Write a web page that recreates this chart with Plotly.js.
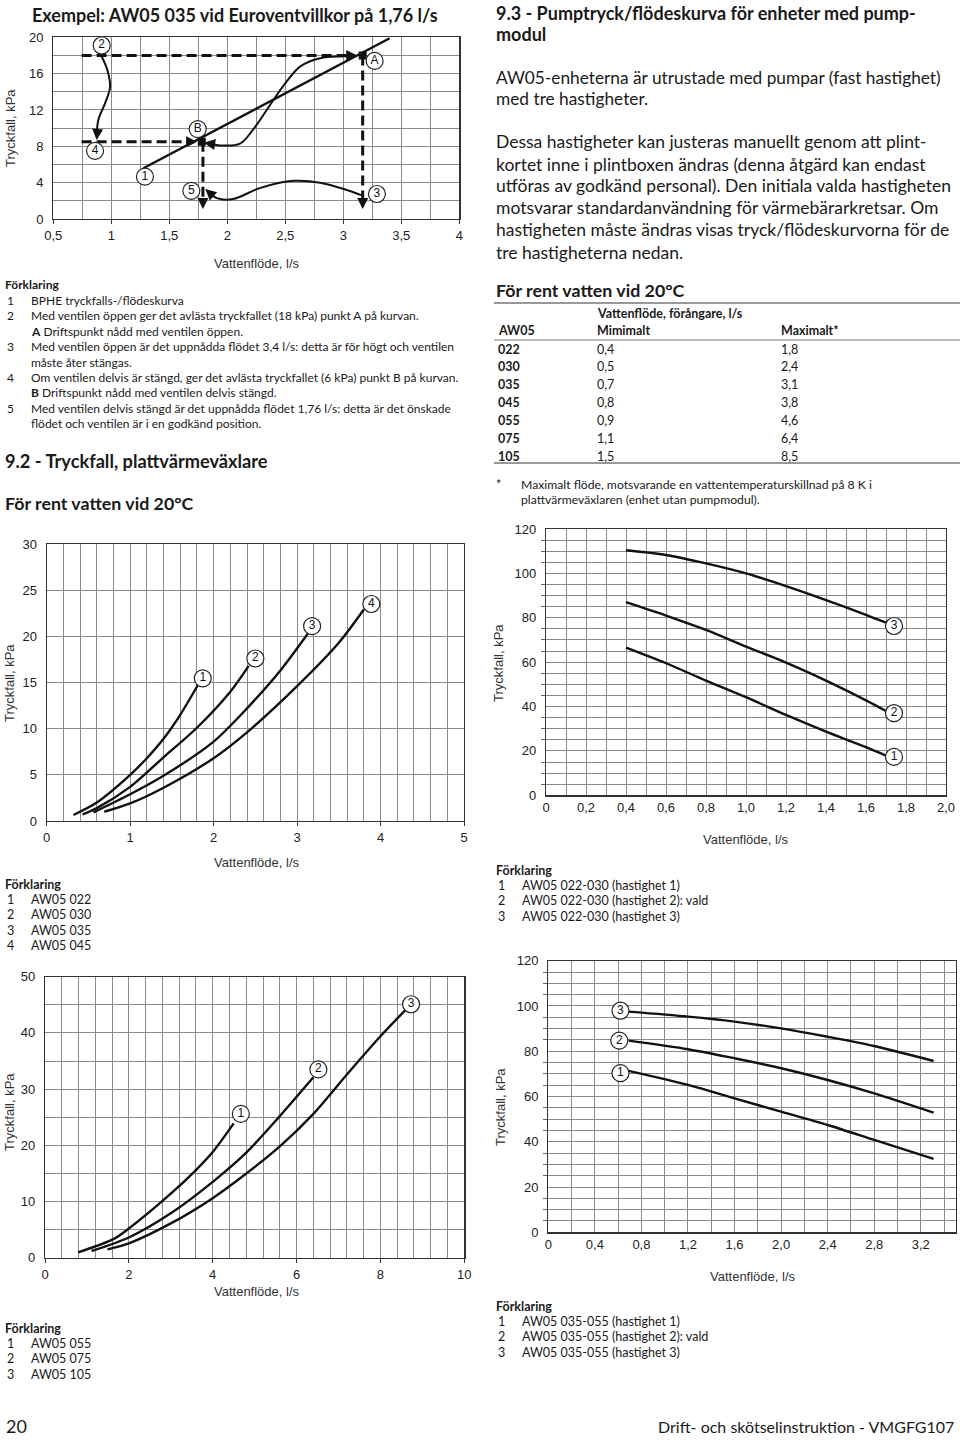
<!DOCTYPE html>
<html><head><meta charset="utf-8">
<script src="https://cdn.plot.ly/plotly-3.0.1.min.js"></script>
<style>body{margin:0;background:#fff}#c{width:960px;height:1440px}</style>
</head><body><div id="c"></div><script>
// ---------- Chart 1: Exempel (Euroventvillkor) ----------
const exCurveX = [1.276, 3.40];
const exCurveY = [5.58, 19.9];
const exPointsX = [3.167, 1.78];      // A, B
const exPointsY = [18.0, 8.5];
const exDashA_X = [0.744, 3.10], exDashA_Y = [18, 18];
const exDashB_X = [0.744, 1.72], exDashB_Y = [8.5, 8.5];
const exDropB_X = [1.79, 1.79], exDropB_Y = [8.5, 1.4];
const exDropA_X = [3.167, 3.167], exDropA_Y = [18, 1.4];
const exArrow24_X = [0.908, 0.966, 0.989, 0.945, 0.888, 0.874];
const exArrow24_Y = [18.1, 16.4, 14.5, 12.7, 10.9, 9.0];
const exArrowAB_X = [3.06, 2.80, 2.63, 2.48, 2.34, 2.22, 2.11, 1.94, 1.83];
const exArrowAB_Y = [17.9, 17.7, 16.8, 14.6, 12.0, 9.8, 8.3, 8.1, 8.4];
const exArrow53_X = [1.84, 1.91, 2.05, 2.28, 2.57, 2.80, 3.03, 3.16];
const exArrow53_Y = [3.0, 2.3, 2.2, 3.4, 4.2, 4.0, 3.2, 2.6];
const exLabels = ['2', 'A', 'B', '4', '1', '5', '3'];
const exLabelX = [0.917, 3.27, 1.745, 0.86, 1.29, 1.69, 3.29];
const exLabelY = [19.1, 17.4, 9.9, 7.5, 4.66, 3.1, 2.75];
const exXTicks = [0.5, 1, 1.5, 2, 2.5, 3, 3.5, 4];
const exXText = ['0,5', '1', '1,5', '2', '2,5', '3', '3,5', '4'];

// ---------- Chart 2: Tryckfall AW05 022-045 ----------
const pv1X = [0.32, 0.6, 1.0, 1.2, 1.4, 1.6, 1.81];
const pv1Y = [0.65, 2.0, 5.0, 6.8, 8.9, 11.5, 14.7];
const pv2X = [0.43, 0.6, 1.0, 1.4, 1.8, 2.2, 2.42];
const pv2Y = [0.72, 1.4, 3.7, 6.9, 10.1, 14.0, 16.8];
const pv3X = [0.56, 1.0, 1.4, 2.0, 2.4, 2.8, 3.13];
const pv3Y = [0.94, 2.9, 4.9, 8.6, 12.2, 16.3, 20.3];
const pv4X = [0.69, 1.0, 1.4, 2.0, 2.4, 3.0, 3.5, 3.8];
const pv4Y = [1.0, 1.9, 3.6, 6.8, 9.6, 14.6, 19.3, 22.9];
const pvLabels = ['1', '2', '3', '4'];
const pvLabelX = [1.87, 2.5, 3.18, 3.89];
const pvLabelY = [15.45, 17.6, 21.1, 23.5];

// ---------- Chart 3: Tryckfall AW05 055-105 ----------
const pw1X = [0.79, 1.63, 2.0, 3.0, 3.6, 4.0, 4.5];
const pw1Y = [0.95, 3.3, 5.2, 11.4, 15.6, 18.8, 23.9];
const pw2X = [1.11, 2.0, 3.0, 4.0, 4.8, 5.6, 6.4];
const pw2Y = [1.19, 3.6, 7.9, 13.5, 18.7, 25.2, 32.1];
const pw3X = [1.49, 2.0, 3.0, 4.0, 4.7, 5.6, 6.4, 7.2, 8.0, 8.6];
const pw3Y = [1.48, 2.55, 6.1, 10.6, 14.4, 19.8, 25.6, 32.6, 39.4, 44.1];
const pwLabels = ['1', '2', '3'];
const pwLabelX = [4.67, 6.52, 8.73];
const pwLabelY = [25.6, 33.5, 45.1];

// ---------- Chart 4: Pumptryck AW05 022-030 ----------
const pa_X = [0.4, 0.6, 0.8, 1.0, 1.2, 1.4, 1.6, 1.7];
const pa3Y = [110.4, 108.3, 104.5, 100, 94.3, 88, 81.3, 77.8];
const pa2Y = [87, 81, 74.5, 67, 59.8, 51.7, 42.8, 38];
const pa1Y = [66.5, 59.5, 51.7, 44.2, 36.2, 28.7, 21.7, 17.9];
const paLabels = ['3', '2', '1'];
const paLabelX = [1.74, 1.74, 1.74];
const paLabelY = [76.3, 37, 17.3];
const paXTicks = [0, 0.2, 0.4, 0.6, 0.8, 1.0, 1.2, 1.4, 1.6, 1.8, 2.0];
const paXText = ['0', '0,2', '0,4', '0,6', '0,8', '1,0', '1,2', '1,4', '1,6', '1,8', '2,0'];

// ---------- Chart 5: Pumptryck AW05 035-055 ----------
const pb_X = [0.69, 1.2, 1.6, 2.0, 2.4, 2.8, 3.31];
const pb3Y = [97.5, 95.3, 93.1, 90.1, 86.4, 82.3, 75.7];
const pb2Y = [84.7, 80.9, 76.9, 72.5, 67.3, 61.4, 52.9];
const pb1Y = [71.3, 65.1, 59.2, 53.3, 47.4, 40.8, 32.4];
const pbLabels = ['3', '2', '1'];
const pbLabelX = [0.62, 0.61, 0.62];
const pbLabelY = [97.9, 84.7, 70.3];
const pbXTicks = [0, 0.4, 0.8, 1.2, 1.6, 2.0, 2.4, 2.8, 3.2];
const pbXText = ['0', '0,4', '0,8', '1,2', '1,6', '2,0', '2,4', '2,8', '3,2'];

// ---------- Table ----------
const tblModel = ['022', '030', '035', '045', '055', '075', '105'];
const tblMin = ['0,4', '0,5', '0,7', '0,8', '0,9', '1,1', '1,5'];
const tblMax = ['1,8', '2,4', '3,1', '3,8', '4,6', '6,4', '8,5'];

// ---------- Text ----------
const legend1 = [
  ['1', 'BPHE tryckfalls-/flödeskurva'],
  ['2', 'Med ventilen öppen ger det avlästa tryckfallet (18 kPa) punkt A på kurvan.'],
  ['', '<b>A</b> Driftspunkt nådd med ventilen öppen.'],
  ['3', 'Med ventilen öppen är det uppnådda flödet 3,4 l/s: detta är för högt och ventilen'],
  ['', 'måste åter stängas.'],
  ['4', 'Om ventilen delvis är stängd, ger det avlästa tryckfallet (6 kPa) punkt B på kurvan.'],
  ['', '<b>B</b> Driftspunkt nådd med ventilen delvis stängd.'],
  ['5', 'Med ventilen delvis stängd är det uppnådda flödet 1,76 l/s: detta är det önskade'],
  ['', 'flödet och ventilen är i en godkänd position.']
];
const legend2 = [['1', 'AW05 022'], ['2', 'AW05 030'], ['3', 'AW05 035'], ['4', 'AW05 045']];
const legend3 = [['1', 'AW05 055'], ['2', 'AW05 075'], ['3', 'AW05 105']];
const legend4 = [['1', 'AW05 022-030 (hastighet 1)'], ['2', 'AW05 022-030 (hastighet 2): vald'], ['3', 'AW05 022-030 (hastighet 3)']];
const legend5 = [['1', 'AW05 035-055 (hastighet 1)'], ['2', 'AW05 035-055 (hastighet 2): vald'], ['3', 'AW05 035-055 (hastighet 3)']];
const para1 = ['AW05-enheterna är utrustade med pumpar (fast hastighet)', 'med tre hastigheter.'];
const para2 = ['Dessa hastigheter kan justeras manuellt genom att plint-',
  'kortet inne i plintboxen ändras (denna åtgärd kan endast',
  'utföras av godkänd personal). Den initiala valda hastigheten',
  'motsvarar standardanvändning för värmebärarkretsar. Om',
  'hastigheten måste ändras visas tryck/flödeskurvorna för de',
  'tre hastigheterna nedan.'];

// ================= Build =================
const W = 960, H = 1440;
const BODY = 'Lato, "Open Sans", sans-serif';
const TICKF = '"Liberation Sans", Arial, sans-serif';
const TXT = '#1a1a1a';
const GRID = '#8a8a8a';
const px = v => v / W, py = v => 1 - v / H;

function axisPair(n, box, xr, yr, xo, yo) {
  const xs = n === 1 ? '' : n, ys = n === 1 ? '' : n;
  const common = {showline: true, mirror: true, linecolor: '#333', linewidth: 1.2, zeroline: false,
    showgrid: true, gridcolor: GRID, gridwidth: 1, fixedrange: true,
    tickfont: {family: TICKF, size: 13, color: '#222'}};
  const xa = Object.assign({}, common, {domain: [px(box[0]), px(box[1])], range: xr,
    anchor: 'y' + ys, ticks: 'outside', ticklen: 4, tickcolor: '#333'}, xo);
  const ya = Object.assign({}, common, {domain: [py(box[3]), py(box[2])], range: yr,
    anchor: 'x' + xs, ticks: '', ticklabelstandoff: 6}, yo);
  return [xa, ya];
}

const layout = {
  width: W, height: H, margin: {l: 0, r: 0, t: 0, b: 0},
  paper_bgcolor: '#fff', plot_bgcolor: '#fff', showlegend: false,
  separators: ', ', annotations: [], shapes: []
};

let [x1, y1] = axisPair(1, [53.3, 459.3, 37.3, 219], [0.5, 4], [0, 20],
  {tickmode: 'array', tickvals: exXTicks, ticktext: exXText,
   minor: {tickmode: 'linear', tick0: 0.5, dtick: 0.25, showgrid: true, gridcolor: GRID, ticks: ''}},
  {tickmode: 'linear', tick0: 0, dtick: 4, minor: {tickmode: 'linear', tick0: 0, dtick: 2, showgrid: true, gridcolor: GRID}});
let [x2, y2] = axisPair(2, [46.7, 464, 544, 821], [0, 5], [0, 30],
  {tickmode: 'linear', tick0: 0, dtick: 1, minor: {tickmode: 'linear', tick0: 0, dtick: 0.2, showgrid: true, gridcolor: GRID}},
  {tickmode: 'linear', tick0: 0, dtick: 5});
let [x3, y3] = axisPair(3, [45, 464.3, 976.7, 1257.7], [0, 10], [0, 50],
  {tickmode: 'linear', tick0: 0, dtick: 2, minor: {tickmode: 'linear', tick0: 0, dtick: 0.4, showgrid: true, gridcolor: GRID}},
  {tickmode: 'linear', tick0: 0, dtick: 10, minor: {tickmode: 'linear', tick0: 0, dtick: 5, showgrid: true, gridcolor: GRID}});
let [x4, y4] = axisPair(4, [546, 946, 529, 795.3], [0, 2], [0, 120],
  {tickmode: 'array', tickvals: paXTicks, ticktext: paXText, ticks: '',
   minor: {tickmode: 'linear', tick0: 0, dtick: 0.1, showgrid: true, gridcolor: GRID}},
  {tickmode: 'linear', tick0: 0, dtick: 20, minor: {tickmode: 'linear', tick0: 0, dtick: 5, showgrid: true, gridcolor: GRID, ticks: 'outside', ticklen: 4, tickcolor: '#666'}});
let [x5, y5] = axisPair(5, [548.3, 955.7, 960.7, 1232.3], [0, 3.5], [0, 120],
  {tickmode: 'array', tickvals: pbXTicks, ticktext: pbXText, ticks: '',
   minor: {tickmode: 'linear', tick0: 0, dtick: 0.2, showgrid: true, gridcolor: GRID}},
  {tickmode: 'linear', tick0: 0, dtick: 20, minor: {tickmode: 'linear', tick0: 0, dtick: 5, showgrid: true, gridcolor: GRID, ticks: 'outside', ticklen: 4, tickcolor: '#666'}});
Object.assign(layout, {xaxis: x1, yaxis: y1, xaxis2: x2, yaxis2: y2, xaxis3: x3, yaxis3: y3,
  xaxis4: x4, yaxis4: y4, xaxis5: x5, yaxis5: y5});

const traces = [];
function curve(x, y, n, extra) {
  const s = n === 1 ? '' : n;
  traces.push(Object.assign({type: 'scatter', mode: 'lines', x: x, y: y, xaxis: 'x' + s, yaxis: 'y' + s,
    line: {color: '#111', width: 2.4, shape: 'spline', smoothing: 0.8}, hoverinfo: 'skip'}, extra || {}));
}
function labels(x, y, t, n, size) {
  const s = n === 1 ? '' : n;
  traces.push({type: 'scatter', mode: 'markers+text', x: x, y: y, text: t, xaxis: 'x' + s, yaxis: 'y' + s,
    marker: {symbol: 'circle', size: size || 17, color: '#fff', line: {color: '#222', width: 1.2}},
    textposition: 'middle center', textfont: {family: TICKF, size: 12, color: '#111'}, hoverinfo: 'skip'});
}

// chart 1
const dashed = {line: {color: '#111', width: 3, dash: '10px,5px'}};
curve(exDashA_X, exDashA_Y, 1, dashed);
curve(exDashB_X, exDashB_Y, 1, dashed);
curve(exDropB_X, exDropB_Y, 1, dashed);
curve(exDropA_X, exDropA_Y, 1, dashed);
curve(exCurveX, exCurveY, 1);
curve(exArrow24_X, exArrow24_Y, 1, {line: {color: '#111', width: 2, shape: 'spline'}});
curve(exArrowAB_X, exArrowAB_Y, 1, {line: {color: '#111', width: 2, shape: 'spline'}});
curve(exArrow53_X, exArrow53_Y, 1, {line: {color: '#111', width: 2, shape: 'spline'}});
traces.push({type: 'scatter', mode: 'markers', x: exPointsX, y: exPointsY, marker: {symbol: 'square', size: 8, color: '#111'}, hoverinfo: 'skip'});
labels(exLabelX, exLabelY, exLabels, 1, 17);

// arrowheads chart 1
function head(x, y, ax, ay) {
  layout.annotations.push({xref: 'x', yref: 'y', x: x, y: y, ax: ax, ay: ay, text: '', showarrow: true,
    arrowhead: 2, arrowsize: 1, arrowwidth: 2.2, arrowcolor: '#111', standoff: 0});
}
head(exDashA_X[1] + 0.02, 18, -12, 0);
head(exDashB_X[1] + 0.02, 8.5, -12, 0);
head(exDropB_X[1], exDropB_Y[1] - 0.3, 0, -12);
head(exDropA_X[1], exDropA_Y[1] - 0.3, 0, -12);
head(exArrow24_X[5], exArrow24_Y[5] - 0.3, 1, -12);
head(exArrowAB_X[8] - 0.03, exArrowAB_Y[8], 12, 2);
head(exArrow53_X[0] - 0.03, exArrow53_Y[0] + 0.3, 9, 8);

// chart 2
curve(pv1X, pv1Y, 2); curve(pv2X, pv2Y, 2); curve(pv3X, pv3Y, 2); curve(pv4X, pv4Y, 2);
labels(pvLabelX, pvLabelY, pvLabels, 2);
// chart 3
curve(pw1X, pw1Y, 3); curve(pw2X, pw2Y, 3); curve(pw3X, pw3Y, 3);
labels(pwLabelX, pwLabelY, pwLabels, 3);
// chart 4
curve(pa_X, pa3Y, 4); curve(pa_X, pa2Y, 4); curve(pa_X, pa1Y, 4);
labels(paLabelX, paLabelY, paLabels, 4);
// chart 5
curve(pb_X, pb3Y, 5); curve(pb_X, pb2Y, 5); curve(pb_X, pb1Y, 5);
labels(pbLabelX, pbLabelY, pbLabels, 5);

// ---------- text ----------
function T(text, x, y, size, o) {
  layout.annotations.push(Object.assign({xref: 'paper', yref: 'paper', x: px(x), y: py(y), text: text,
    showarrow: false, xanchor: 'left', yanchor: 'middle',
    font: {family: BODY, size: size, color: TXT}}, o || {}));
}
function AxT(text, x, y, rot, family) {
  T(text, x, y, 13, {xanchor: 'center', textangle: rot || 0, font: {family: family || TICKF, size: 13, color: '#333'}});
}
function legendBlock(items, x, y0, step, size) {
  T('<b>Förklaring</b>', x, y0, size);
  items.forEach((it, i) => {
    if (it[0]) T(it[0], x + 2, y0 + step * (i + 1), size);
    T(it[1], x + 26, y0 + step * (i + 1), size);
  });
}

T('<b>Exempel: AW05 035 vid Euroventvillkor på 1,76 l/s</b>', 235, 15, 18, {xanchor: 'center'});
AxT('Tryckfall, kPa', 10, 128, -90);
AxT('Vattenflöde, l/s', 257, 263);
legendBlock(legend1, 3, 285, 15.4, 12);
T('<b>9.2 - Tryckfall, plattvärmeväxlare</b>', 3, 461, 18.2);
T('<b>För rent vatten vid 20°C</b>', 3, 503, 17.8);

AxT('Tryckfall, kPa', 9, 683, -90);
AxT('Vattenflöde, l/s', 257, 862);
legendBlock(legend2, 3, 884, 15.4, 12.5);

AxT('Tryckfall, kPa', 9, 1112, -90);
AxT('Vattenflöde, l/s', 257, 1291);
legendBlock(legend3, 3, 1328, 15.4, 12.5);

T('<b>9.3 - Pumptryck/flödeskurva för enheter med pump-</b>', 494, 13, 18);
T('<b>modul</b>', 494, 34, 18);
para1.forEach((l, i) => T(l, 494, 77 + 21.5 * i, 17.3));
para2.forEach((l, i) => T(l, 494, 142 + 22 * i, 17.5));
T('<b>För rent vatten vid 20°C</b>', 494, 290, 17.8);

// table
const rule = (y, w) => layout.shapes.push({type: 'line', xref: 'paper', yref: 'paper', x0: px(494), x1: px(960), y0: py(y), y1: py(y), line: {color: '#777', width: w}});
rule(303, 1.5); rule(340, 1); rule(463, 1.5);
T('<b>Vattenflöde, förångare, l/s</b>', 595, 313, 12.5);
T('<b>AW05</b>', 496, 331, 12.5);
T('<b>Mimimalt</b>', 595, 331, 12.5);
T('<b>Maximalt*</b>', 779, 331, 12.5);
tblModel.forEach((m, i) => {
  const y = 349 + 17.9 * i;
  T('<b>' + m + '</b>', 496, y, 12.5);
  T(tblMin[i], 595, y, 12.5);
  T(tblMax[i], 779, y, 12.5);
});
T('*', 494, 484, 12.5);
T('Maximalt flöde, motsvarande en vattentemperaturskillnad på 8 K i', 519, 484, 12.2);
T('plattvärmeväxlaren (enhet utan pumpmodul).', 519, 499, 12.2);

AxT('Tryckfall, kPa', 498, 663, -90);
AxT('Vattenflöde, l/s', 746, 839);
legendBlock(legend4, 494, 870, 15.4, 12.5);

AxT('Tryckfall, kPa', 500, 1107, -90);
AxT('Vattenflöde, l/s', 753, 1276);
legendBlock(legend5, 494, 1306, 15.4, 12.5);

T('20', 4, 1426, 18);
T('Drift- och skötselinstruktion - VMGFG107', 956, 1426, 16, {xanchor: 'right'});

Plotly.newPlot('c', traces, layout, {staticPlot: true, displayModeBar: false});
</script></body></html>
